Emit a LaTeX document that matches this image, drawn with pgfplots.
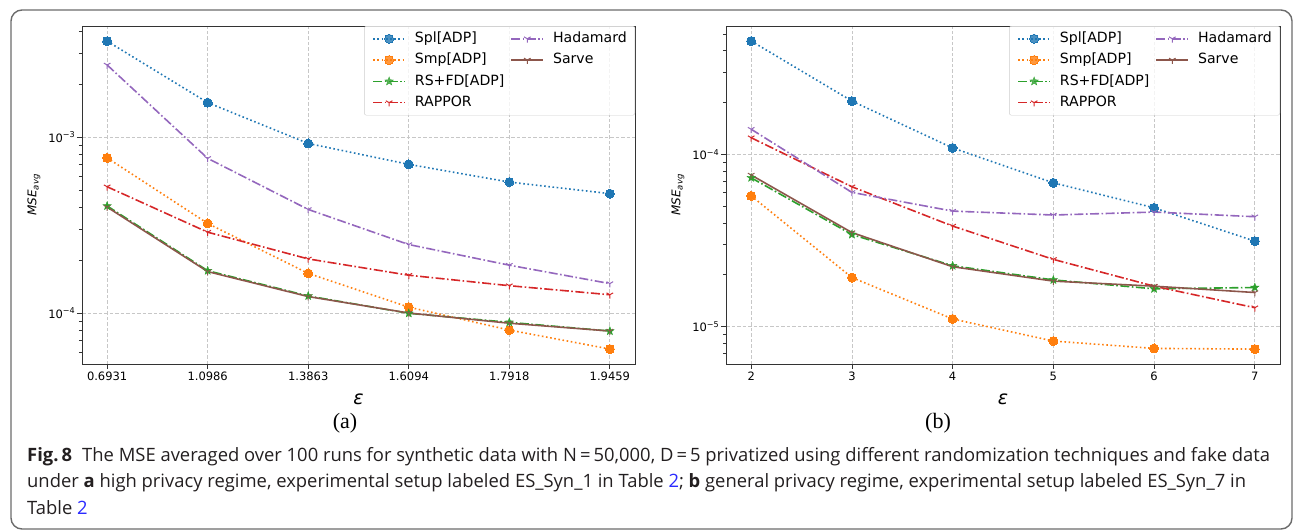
\documentclass[border=0pt]{standalone}
\usepackage{pgfplots}
\usepackage{pgfplotstable}
\pgfplotsset{compat=1.18}
\usepackage{fontspec}
\setmainfont{DejaVu Sans}
\newfontfamily\capfont{Open Sans}
\newfontfamily\serifcap{Liberation Serif}
\definecolor{c0}{HTML}{1F77B4}
\definecolor{c1}{HTML}{FF7F0E}
\definecolor{c2}{HTML}{2CA02C}
\definecolor{c3}{HTML}{D62728}
\definecolor{c4}{HTML}{9467BD}
\definecolor{c5}{HTML}{8C564B}
\definecolor{captxt}{HTML}{231F20}
\definecolor{linkblue}{HTML}{2B2BFF}

\pgfdeclareplotmark{fstar}{%
  \pgfpathmoveto{\pgfpointpolar{90}{\pgfplotmarksize}}%
  \pgfpathlineto{\pgfpointpolar{126}{0.42\pgfplotmarksize}}%
  \pgfpathlineto{\pgfpointpolar{162}{\pgfplotmarksize}}%
  \pgfpathlineto{\pgfpointpolar{198}{0.42\pgfplotmarksize}}%
  \pgfpathlineto{\pgfpointpolar{234}{\pgfplotmarksize}}%
  \pgfpathlineto{\pgfpointpolar{270}{0.42\pgfplotmarksize}}%
  \pgfpathlineto{\pgfpointpolar{306}{\pgfplotmarksize}}%
  \pgfpathlineto{\pgfpointpolar{342}{0.42\pgfplotmarksize}}%
  \pgfpathlineto{\pgfpointpolar{18}{\pgfplotmarksize}}%
  \pgfpathlineto{\pgfpointpolar{54}{0.42\pgfplotmarksize}}%
  \pgfpathclose\pgfusepathqfillstroke}

\pgfplotstableread{
x spl smp rs rap had sar
0 3.51e-3 7.62e-4 4.06e-4 5.22e-4 2.57e-3 4.00e-4
1 1.57e-3 3.23e-4 1.74e-4 2.88e-4 7.57e-4 1.72e-4
2 9.20e-4 1.68e-4 1.25e-4 2.03e-4 3.88e-4 1.24e-4
3 7.00e-4 1.08e-4 9.96e-5 1.64e-4 2.45e-4 1.00e-4
4 5.55e-4 8.00e-5 8.85e-5 1.43e-4 1.87e-4 8.75e-5
5 4.77e-4 6.24e-5 7.90e-5 1.27e-4 1.47e-4 7.90e-5
}\dataA

\pgfplotstableread{
x spl smp rs rap had sar
2 4.55e-4 5.75e-5 7.32e-5 1.25e-4 1.40e-4 7.59e-5
3 2.04e-4 1.93e-5 3.43e-5 6.49e-5 6.02e-5 3.52e-5
4 1.09e-4 1.11e-5 2.26e-5 3.84e-5 4.69e-5 2.23e-5
5 6.84e-5 8.26e-6 1.87e-5 2.46e-5 4.45e-5 1.84e-5
6 4.90e-5 7.49e-6 1.66e-5 1.72e-5 4.63e-5 1.72e-5
7 3.14e-5 7.42e-6 1.69e-5 1.29e-5 4.35e-5 1.58e-5
}\dataB

\pgfplotsset{
  sSpl/.style={c0, line width=1.6pt, dash pattern=on 1.6pt off 2.6pt, mark=*, mark size=4.5pt, mark options={solid, fill=c0, draw=c0, line width=0pt}},
  sSmp/.style={c1, line width=1.6pt, dash pattern=on 1.6pt off 2.6pt, mark=*, mark size=4.5pt, mark options={solid, fill=c1, draw=c1, line width=0pt}},
  sRs/.style={c2, line width=1.6pt, dash pattern=on 9pt off 2.5pt on 1.6pt off 2.5pt, mark=fstar, mark size=4.5pt, mark options={solid, fill=c2, draw=c2, line width=0.3pt}},
  sRap/.style={c3, line width=1.6pt, dash pattern=on 9pt off 2.5pt on 1.6pt off 2.5pt, mark=Mercedes star flipped, mark size=3.8pt, mark options={solid, line width=1pt}},
  sHad/.style={c4, line width=1.6pt, dash pattern=on 9pt off 2.5pt on 1.6pt off 2.5pt, mark=Mercedes star flipped, mark size=3.8pt, mark options={solid, line width=1pt}},
  sSar/.style={c5, line width=1.6pt, solid, mark=Mercedes star flipped, mark size=3.8pt, mark options={solid, line width=1pt}},
}

\newcommand{\legendentries}{%
  \addlegendimage{sSpl}\addlegendentry{Spl[ADP]}
  \addlegendimage{sHad}\addlegendentry{Hadamard}
  \addlegendimage{sSmp}\addlegendentry{Smp[ADP]}
  \addlegendimage{sSar}\addlegendentry{Sarve}
  \addlegendimage{sRs}\addlegendentry{RS+FD[ADP]}
  \addlegendimage{empty legend}\addlegendentry{}
  \addlegendimage{sRap}\addlegendentry{RAPPOR}
  \addlegendimage{empty legend}\addlegendentry{}
}

\pgfplotsset{every axis/.append style={
    scale only axis,
    tick align=outside, xtick pos=left, ytick pos=left,
    major tick length=5pt, minor tick length=3pt,
    every tick/.style={black!80, line width=0.8pt},
    axis line style={black!80, line width=1pt},
    grid=major,
    major grid style={black!22, line width=0.8pt, dash pattern=on 3.5pt off 2pt},
    tick label style={font=\fontsize{11.5}{13}\selectfont, text=black},
    yticklabel style={inner sep=1.5pt},
    xticklabel style={inner sep=2pt, yshift=-1pt},
    legend columns=2,
    legend cell align=left,
    legend style={at={(1,1)}, anchor=north east, draw=black!20, fill=white, fill opacity=0.8, text opacity=1, rounded corners=2pt, font=\fontsize{14.1}{16}\selectfont, inner xsep=8pt, inner ysep=5.8pt, row sep=7.8pt,
      nodes={inner sep=0pt, text height=10.5pt, text depth=3pt},
      /tikz/every odd column/.append style={column sep=9pt},
      /tikz/every even column/.append style={column sep=6pt}},
    legend image code/.code={\draw[mark repeat=2,mark phase=2,#1] plot coordinates {(0pt,0pt) (16pt,0pt) (32pt,0pt)};},
    every axis y label/.style={at={(axis description cs:0,0.5)}, xshift=-48pt, rotate=90, anchor=center, font=\fontsize{12}{14}\selectfont},
    every axis x label/.style={at={(axis description cs:0.5,0)}, yshift=-35pt, anchor=center, font=\fontsize{19}{20}\selectfont},
}}

\begin{document}
\begin{tikzpicture}[x=1pt,y=1pt]
\useasboundingbox (0,0) rectangle (1296,531);
\draw[black!58, line width=1.4pt, rounded corners=11pt] (11,2) rectangle (1292,521);

\begin{axis}[ymode=log, at={(82pt,167pt)}, anchor=south west, width=553pt, height=338pt,
  xmin=-0.25, xmax=5.25, ymin=5.13e-5, ymax=4.28e-3,
  xtick={0,1,2,3,4,5}, xticklabels={0.6931,1.0986,1.3863,1.6094,1.7918,1.9459},
  ytick={1e-4,1e-3}, yticklabels={10\textsuperscript{−4},10\textsuperscript{−3}},
  minor ytick={6e-5,7e-5,8e-5,9e-5,2e-4,3e-4,4e-4,5e-4,6e-4,7e-4,8e-4,9e-4,2e-3,3e-3,4e-3},
  ylabel={\itshape MSE\raisebox{-0.35ex}{\fontsize{8.5}{9}\selectfont avg}},
  xlabel={\itshape ε},
]
\legendentries
\addplot[sSpl, forget plot] table[x=x, y=spl] {\dataA};
\addplot[sSmp, forget plot] table[x=x, y=smp] {\dataA};
\addplot[sRs, forget plot] table[x=x, y=rs] {\dataA};
\addplot[sRap, forget plot] table[x=x, y=rap] {\dataA};
\addplot[sHad, forget plot] table[x=x, y=had] {\dataA};
\addplot[sSar, forget plot] table[x=x, y=sar] {\dataA};
\end{axis}

\begin{axis}[ymode=log, at={(726pt,167pt)}, anchor=south west, width=554pt, height=338pt,
  xmin=1.75, xmax=7.25, ymin=6.08e-6, ymax=5.56e-4,
  xtick={2,3,4,5,6,7}, xticklabels={2,3,4,5,6,7},
  ytick={1e-5,1e-4}, yticklabels={10\textsuperscript{−5},10\textsuperscript{−4}},
  minor ytick={7e-6,8e-6,9e-6,2e-5,3e-5,4e-5,5e-5,6e-5,7e-5,8e-5,9e-5,2e-4,3e-4,4e-4,5e-4},
  ylabel={\itshape MSE\raisebox{-0.35ex}{\fontsize{8.5}{9}\selectfont avg}},
  xlabel={\itshape ε},
]
\legendentries
\addplot[sSpl, forget plot] table[x=x, y=spl] {\dataB};
\addplot[sSmp, forget plot] table[x=x, y=smp] {\dataB};
\addplot[sRs, forget plot] table[x=x, y=rs] {\dataB};
\addplot[sRap, forget plot] table[x=x, y=rap] {\dataB};
\addplot[sHad, forget plot] table[x=x, y=had] {\dataB};
\addplot[sSar, forget plot] table[x=x, y=sar] {\dataB};
\end{axis}

\node[font=\serifcap\fontsize{22}{24}\selectfont] at (345,108) {(a)};
\node[font=\serifcap\fontsize{22}{24}\selectfont] at (938,108) {(b)};

\begin{scope}[every node/.style={anchor=base west, inner sep=0pt, text=captxt, font=\capfont\fontsize{18.4}{20}\selectfont}]
\node at (27,69.5) {{\bfseries Fig.\,8}\hspace{0.55em}The MSE averaged over 100 runs for synthetic data with N\,=\,50,000, D\,=\,5 privatized using different randomization techniques and fake data};
\node at (27,43.6) {under {\bfseries a} high privacy regime, experimental setup labeled ES\_Syn\_1 in Table \textcolor{linkblue}{2}; {\bfseries b} general privacy regime, experimental setup labeled ES\_Syn\_7 in};
\node at (27,16.6) {Table \textcolor{linkblue}{2}};
\end{scope}
\end{tikzpicture}
\end{document}
